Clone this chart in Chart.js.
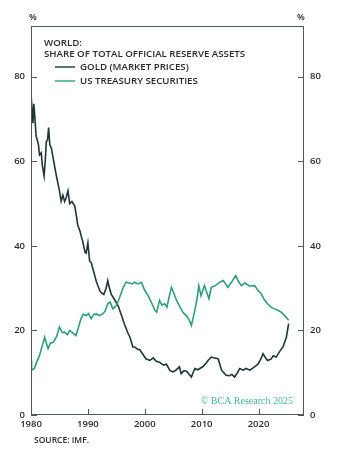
<!DOCTYPE html>
<html>
<head>
<meta charset="utf-8">
<script src="https://cdn.jsdelivr.net/npm/chart.js@4.4.1/dist/chart.umd.min.js"></script>
<style>
  html, body { margin: 0; padding: 0; background: #fff; }
  #wrap { width: 345px; height: 452px; }
</style>
</head>
<body>
<div id="wrap"><canvas id="myChart" width="345" height="452"></canvas></div>
<script>
// gold share of reserves (market prices), %
const goldYears = [1980.0, 1980.2, 1980.35, 1980.5, 1980.7, 1980.9, 1981.3, 1981.5, 1981.8, 1982.0, 1982.3, 1982.5, 1982.7, 1982.9, 1983.1, 1983.3, 1983.6, 1984.0, 1984.4, 1984.7, 1985.0, 1985.3, 1985.6, 1985.9, 1986.2, 1986.5, 1986.8, 1987.2, 1987.7, 1988.0, 1988.2, 1988.6, 1989.1, 1989.5, 1989.7, 1990.0, 1990.3, 1990.6, 1991.0, 1991.5, 1992.1, 1992.3, 1992.8, 1993.2, 1993.5, 1993.7, 1994.1, 1994.6, 1995.3, 1995.8, 1996.4, 1997.0, 1997.4, 1997.9, 1998.2, 1998.8, 1999.1, 1999.6, 2000.2, 2000.9, 2001.5, 2002.0, 2002.6, 2003.3, 2003.8, 2004.4, 2004.9, 2005.4, 2006.1, 2006.4, 2006.9, 2007.4, 2008.2, 2008.8, 2009.3, 2010.2, 2010.8, 2011.2, 2011.7, 2012.3, 2012.9, 2013.2, 2013.5, 2014.3, 2014.9, 2015.3, 2015.8, 2016.3, 2016.7, 2017.3, 2017.8, 2018.5, 2019.3, 2019.9, 2020.4, 2020.8, 2021.2, 2021.6, 2022.2, 2022.6, 2023.1, 2023.7, 2024.3, 2024.9, 2025.3];
const goldValues = [76, 72, 69, 73.6, 70, 66, 64, 61.5, 62, 59, 56.5, 60, 64.7, 65, 68, 64, 63, 60, 57, 55, 53, 50.6, 52, 50.5, 51.5, 53, 50, 50.5, 49.4, 47, 45, 43.5, 41, 38.5, 38.3, 40.7, 36.5, 36, 34, 31.5, 29.4, 29, 28.5, 30, 31.8, 30.5, 28.6, 27.5, 25.9, 24, 21.6, 19.5, 18.4, 16.1, 16.1, 15.5, 15.5, 14.5, 13.3, 12.9, 13.5, 12.7, 12.5, 11.8, 12, 10.6, 10.2, 10.5, 11.4, 9.8, 10.5, 10.3, 9, 11, 10.7, 11.4, 12.3, 13, 13.7, 13.5, 13.3, 12, 10.6, 9.4, 9.3, 9.6, 9, 10, 11, 10.6, 11, 10.6, 11.4, 12, 13.2, 14.5, 13.6, 12.9, 13.2, 14, 13.7, 15, 16.1, 18.4, 21.6];

// US Treasury securities share of reserves, %
const tsyYears = [1980.0, 1980.1, 1980.6, 1981.0, 1981.5, 1981.9, 1982.4, 1982.7, 1983.0, 1983.4, 1983.9, 1984.5, 1985.0, 1985.5, 1985.9, 1986.4, 1986.8, 1987.3, 1987.9, 1988.3, 1988.8, 1989.2, 1989.7, 1990.1, 1990.6, 1991.0, 1991.5, 1992.0, 1992.6, 1993.0, 1993.5, 1993.9, 1994.4, 1995.0, 1995.5, 1996.1, 1996.7, 1997.3, 1997.8, 1998.2, 1998.8, 1999.4, 2000.0, 2000.6, 2001.2, 2001.8, 2002.1, 2002.6, 2003.0, 2003.5, 2003.9, 2004.3, 2004.7, 2005.2, 2005.6, 2006.2, 2006.7, 2007.3, 2007.8, 2008.2, 2008.8, 2009.2, 2009.5, 2009.9, 2010.5, 2010.9, 2011.3, 2011.7, 2012.3, 2013.2, 2013.8, 2014.6, 2015.3, 2016.0, 2016.5, 2017.0, 2017.6, 2018.4, 2019.3, 2019.9, 2020.5, 2021.0, 2021.6, 2022.2, 2022.8, 2023.5, 2024.0, 2024.6, 2025.3];
const tsyValues = [12.9, 10.6, 11, 12.5, 14.1, 16, 18.4, 17, 15.7, 17, 17.2, 18.5, 20.8, 19.5, 19.6, 19, 20, 19.5, 18.8, 20.5, 22.8, 23.8, 23.5, 24, 22.8, 23.8, 23.9, 23.5, 23.9, 24.5, 26.3, 26.7, 25.1, 25.9, 27.5, 29.8, 31.4, 31.2, 31, 31.4, 31, 31.4, 29.5, 28.2, 26.5, 24.7, 24.3, 27.1, 26, 26.3, 25.5, 28, 30.2, 28.5, 27.1, 25.5, 24.3, 23.5, 22.5, 21.2, 24.7, 27.5, 30.6, 28.2, 30.6, 29, 27.5, 30.2, 30.5, 31.4, 31.8, 30.2, 31.5, 33, 31.5, 30.6, 31.2, 30.5, 30.6, 29.5, 28.6, 27.3, 26.3, 25.5, 25.1, 24.7, 24.3, 23.5, 22.4];

const yearTicks = [1980, 1990, 2000, 2010, 2020];
const pctTicks = [0, 20, 40, 60, 80];
const seriesNames = ['GOLD (MARKET PRICES)', 'US TREASURY SECURITIES'];
const seriesColors = ['#1e3636', '#2f9d7c'];

const txt = '#2a2a2a';
const frame = '#4d5858';
const fam = '"Open Sans", "Noto Sans", sans-serif';

function toPoints(xs, ys) {
  return xs.map((x, i) => ({ x: x, y: ys[i] }));
}

// frame, inner tick marks, titles, legend and notes
const decor = {
  id: 'decor',
  afterDraw(chart) {
    const ctx = chart.ctx;
    const a = chart.chartArea;
    const sx = chart.scales.x, sy = chart.scales.y;
    ctx.save();
    ctx.strokeStyle = frame;
    ctx.lineWidth = 1;
    ctx.strokeRect(a.left + 0.5, a.top + 0.5, a.right - a.left - 1, a.bottom - a.top - 1);
    ctx.beginPath();
    yearTicks.forEach(v => {
      const px = Math.round(sx.getPixelForValue(v)) + 0.5;
      ctx.moveTo(px, a.bottom);
      ctx.lineTo(px, a.bottom - 6);
    });
    pctTicks.forEach(v => {
      const py = Math.round(sy.getPixelForValue(v)) + 0.5;
      ctx.moveTo(a.left, py); ctx.lineTo(a.left + 6, py);
      ctx.moveTo(a.right, py); ctx.lineTo(a.right - 6, py);
    });
    ctx.stroke();

    ctx.fillStyle = txt;
    ctx.textBaseline = 'middle';
    ctx.textAlign = 'center';
    ctx.font = '600 9px ' + fam;
    ctx.fillText('%', a.left + 2, 17);
    ctx.fillText('%', a.right - 3, 17);

    ctx.textAlign = 'left';
    ctx.font = '600 9.7px ' + fam;
    ctx.fillText('WORLD:', 44, 43);
    ctx.fillText('SHARE OF TOTAL OFFICIAL RESERVE ASSETS', 44, 54);
    seriesNames.forEach((n, i) => {
      const y = 67 + i * 14;
      ctx.strokeStyle = seriesColors[i];
      ctx.lineWidth = 1.4;
      ctx.beginPath();
      ctx.moveTo(55, y); ctx.lineTo(75, y);
      ctx.stroke();
      ctx.fillText(n, 80, y);
    });

    ctx.font = '600 8.5px ' + fam;
    ctx.fillText('SOURCE: IMF.', 34, 441);

    ctx.fillStyle = '#4db48f';
    ctx.textAlign = 'right';
    ctx.font = '10px "Liberation Serif", serif';
    ctx.fillText('\u00a9 BCA Research 2025', a.right - 11, 401);
    ctx.restore();
  }
};

const tickFont = { family: fam, size: 9.5, weight: '600' };

const ctx = document.getElementById('myChart').getContext('2d');
window.chart = new Chart(ctx, {
  type: 'line',
  data: {
    datasets: [
      { label: seriesNames[1], data: toPoints(tsyYears, tsyValues), borderColor: seriesColors[1], borderWidth: 1.6, pointRadius: 0, tension: 0 },
      { label: seriesNames[0], data: toPoints(goldYears, goldValues), borderColor: seriesColors[0], borderWidth: 1.6, pointRadius: 0, tension: 0 }
    ]
  },
  options: {
    responsive: false,
    animation: false,
    layout: { padding: { top: 26, left: 0, right: 0, bottom: 0 } },
    plugins: { legend: { display: false }, tooltip: { enabled: false } },
    scales: {
      x: {
        type: 'linear', min: 1980, max: 2028,
        afterFit: s => { s.height = 37; },
        afterBuildTicks: s => { s.ticks = yearTicks.map(v => ({ value: v })); },
        ticks: { color: txt, font: tickFont, padding: 4, maxRotation: 0, callback: v => String(v) },
        grid: { display: false, drawTicks: false },
        border: { display: false }
      },
      y: {
        position: 'left', min: 0, max: 92,
        afterFit: s => { s.width = 31; },
        afterBuildTicks: s => { s.ticks = pctTicks.map(v => ({ value: v })); },
        ticks: { color: txt, font: tickFont, padding: 6 },
        grid: { display: false, drawTicks: false },
        border: { display: false }
      },
      y2: {
        position: 'right', min: 0, max: 92,
        afterFit: s => { s.width = 41; },
        afterBuildTicks: s => { s.ticks = pctTicks.map(v => ({ value: v })); },
        ticks: { color: txt, font: tickFont, padding: 6 },
        grid: { display: false, drawTicks: false },
        border: { display: false }
      }
    }
  },
  plugins: [decor]
});
</script>
</body>
</html>
